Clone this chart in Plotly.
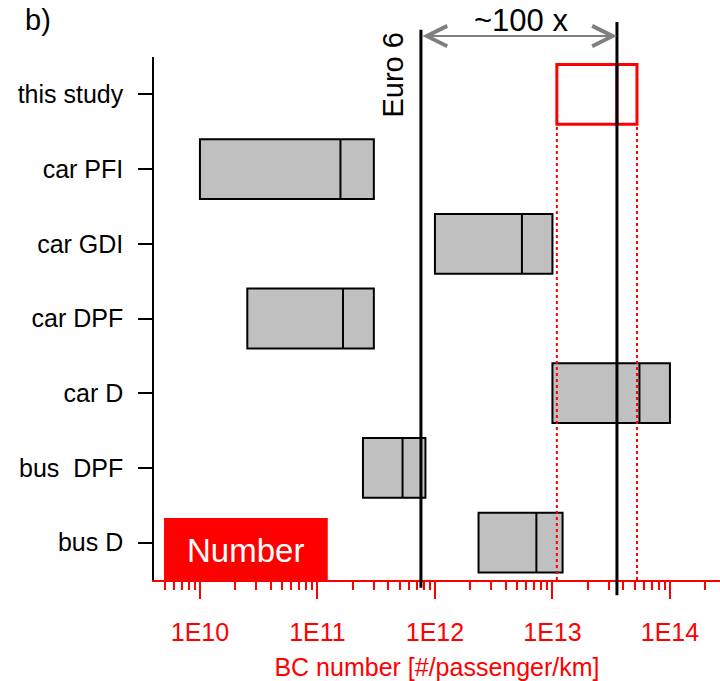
import math
import plotly.graph_objects as go

# ---- data ----
categories = ["this study", "car PFI", "car GDI", "car DPF", "car D", "bus \u00a0DPF", "bus D"]
positions = [6, 5, 4, 3, 2, 1, 0]
q1_vals = [1.09e13, 1.0e10, 1.0e12, 2.53e10, 1.0e13, 2.44e11, 2.35e12]
median_vals = [3.54e13, 1.57e11, 5.5e12, 1.65e11, 5.5e13, 5.3e11, 7.3e12]
q3_vals = [5.24e13, 3.02e11, 1.0e13, 3.02e11, 1.0e14, 8.3e11, 1.22e13]
tick_vals = [1e10, 1e11, 1e12, 1e13, 1e14]
tick_text = ["1E10", "1E11", "1E12", "1E13", "1E14"]
euro6_limit = 7.6e11
study_median_line = 3.54e13

font_family = "Liberation Sans, Arial, sans-serif"

fig = go.Figure()
for i, cat in enumerate(categories):
    is_study = i == 0
    fig.add_trace(go.Box(
        y=[positions[i]], q1=[q1_vals[i]], median=[median_vals[i]], q3=[q3_vals[i]],
        lowerfence=[q1_vals[i]], upperfence=[q3_vals[i]],
        orientation="h", width=0.8, boxpoints=False, whiskerwidth=0,
        fillcolor="white" if is_study else "#c0c0c0",
        line=dict(color="red" if is_study else "black", width=3 if is_study else 2),
        name=cat, showlegend=False, hoverinfo="skip",
    ))

shapes = []
# dotted red lines from study box edges down to the axis
for xv in (q1_vals[0], q3_vals[0]):
    shapes.append(dict(type="line", xref="x", yref="y", x0=xv, x1=xv, y0=-0.5, y1=positions[0] - 0.4,
                       line=dict(color="red", width=2, dash="dot")))
# Euro 6 line and study line
shapes.append(dict(type="line", xref="x", yref="paper", x0=euro6_limit, x1=euro6_limit, y0=-0.015, y1=1.052,
                   line=dict(color="black", width=3)))
shapes.append(dict(type="line", xref="x", yref="paper", x0=study_median_line, x1=study_median_line,
                   y0=-0.029, y1=1.067, line=dict(color="black", width=3)))
# "Number" red box
shapes.append(dict(type="rect", xref="paper", yref="paper", x0=0.0177, x1=0.307, y0=0.0, y1=0.1185,
                   fillcolor="red", line=dict(width=0), layer="above"))

annotations = [
    dict(text="b)", xref="paper", yref="paper", x=-0.205, y=1.071, showarrow=False,
         xanchor="center", yanchor="middle",
         font=dict(size=29, color="black", family=font_family)),
    dict(text="Euro 6", xref="paper", yref="paper", x=0.4215, y=0.9656, textangle=-90, showarrow=False,
         xanchor="center", yanchor="middle",
         font=dict(size=29, color="black", family=font_family)),
    dict(text="~100 x", xref="paper", yref="paper", x=0.648, y=1.069, showarrow=False,
         xanchor="center", yanchor="middle",
         font=dict(size=31, color="black", family=font_family)),
    dict(text="", xref="x", yref="paper", axref="x", ayref="pixel",
         x=math.log10(study_median_line), y=1.040, ax=math.log10(euro6_limit), ay=0,
         showarrow=True, arrowhead=5, startarrowhead=5, arrowside="end+start",
         arrowsize=2, startarrowsize=2, arrowwidth=2, arrowcolor="#7f7f7f",
         standoff=0, startstandoff=0),
    dict(text="Number", xref="paper", yref="paper", x=0.162, y=0.056, showarrow=False,
         xanchor="center", yanchor="middle",
         font=dict(size=33, color="white", family=font_family)),
]

fig.update_layout(
    width=720, height=681,
    margin=dict(l=154, r=0, t=57, b=101),
    paper_bgcolor="white", plot_bgcolor="white",
    shapes=shapes, annotations=annotations,
    font=dict(family=font_family, color="black"),
    xaxis=dict(
        type="log", range=[9.609, 14.426],
        tickvals=tick_vals, ticktext=tick_text,
        ticks="outside", ticklen=17, tickwidth=2, tickcolor="red",
        minor=dict(ticks="outside", ticklen=8, tickwidth=1.5, tickcolor="red", dtick="D1", showgrid=False),
        showline=True, linecolor="red", linewidth=2,
        showgrid=False, zeroline=False,
        tickfont=dict(size=25, color="red", family=font_family),
        ticklabelstandoff=12,
        title=dict(text="BC number [#/passenger/km]", font=dict(size=25, color="red", family=font_family),
                   standoff=15),
    ),
    yaxis=dict(
        range=[-0.5, 6.5], tickvals=positions, ticktext=categories,
        ticks="outside", ticklen=14, tickwidth=1.5, tickcolor="black",
        showline=True, linecolor="black", linewidth=1.5,
        showgrid=False, zeroline=False,
        tickfont=dict(size=25, color="black", family=font_family),
        ticklabelstandoff=10,
    ),
)

fig.write_html("out.html")
